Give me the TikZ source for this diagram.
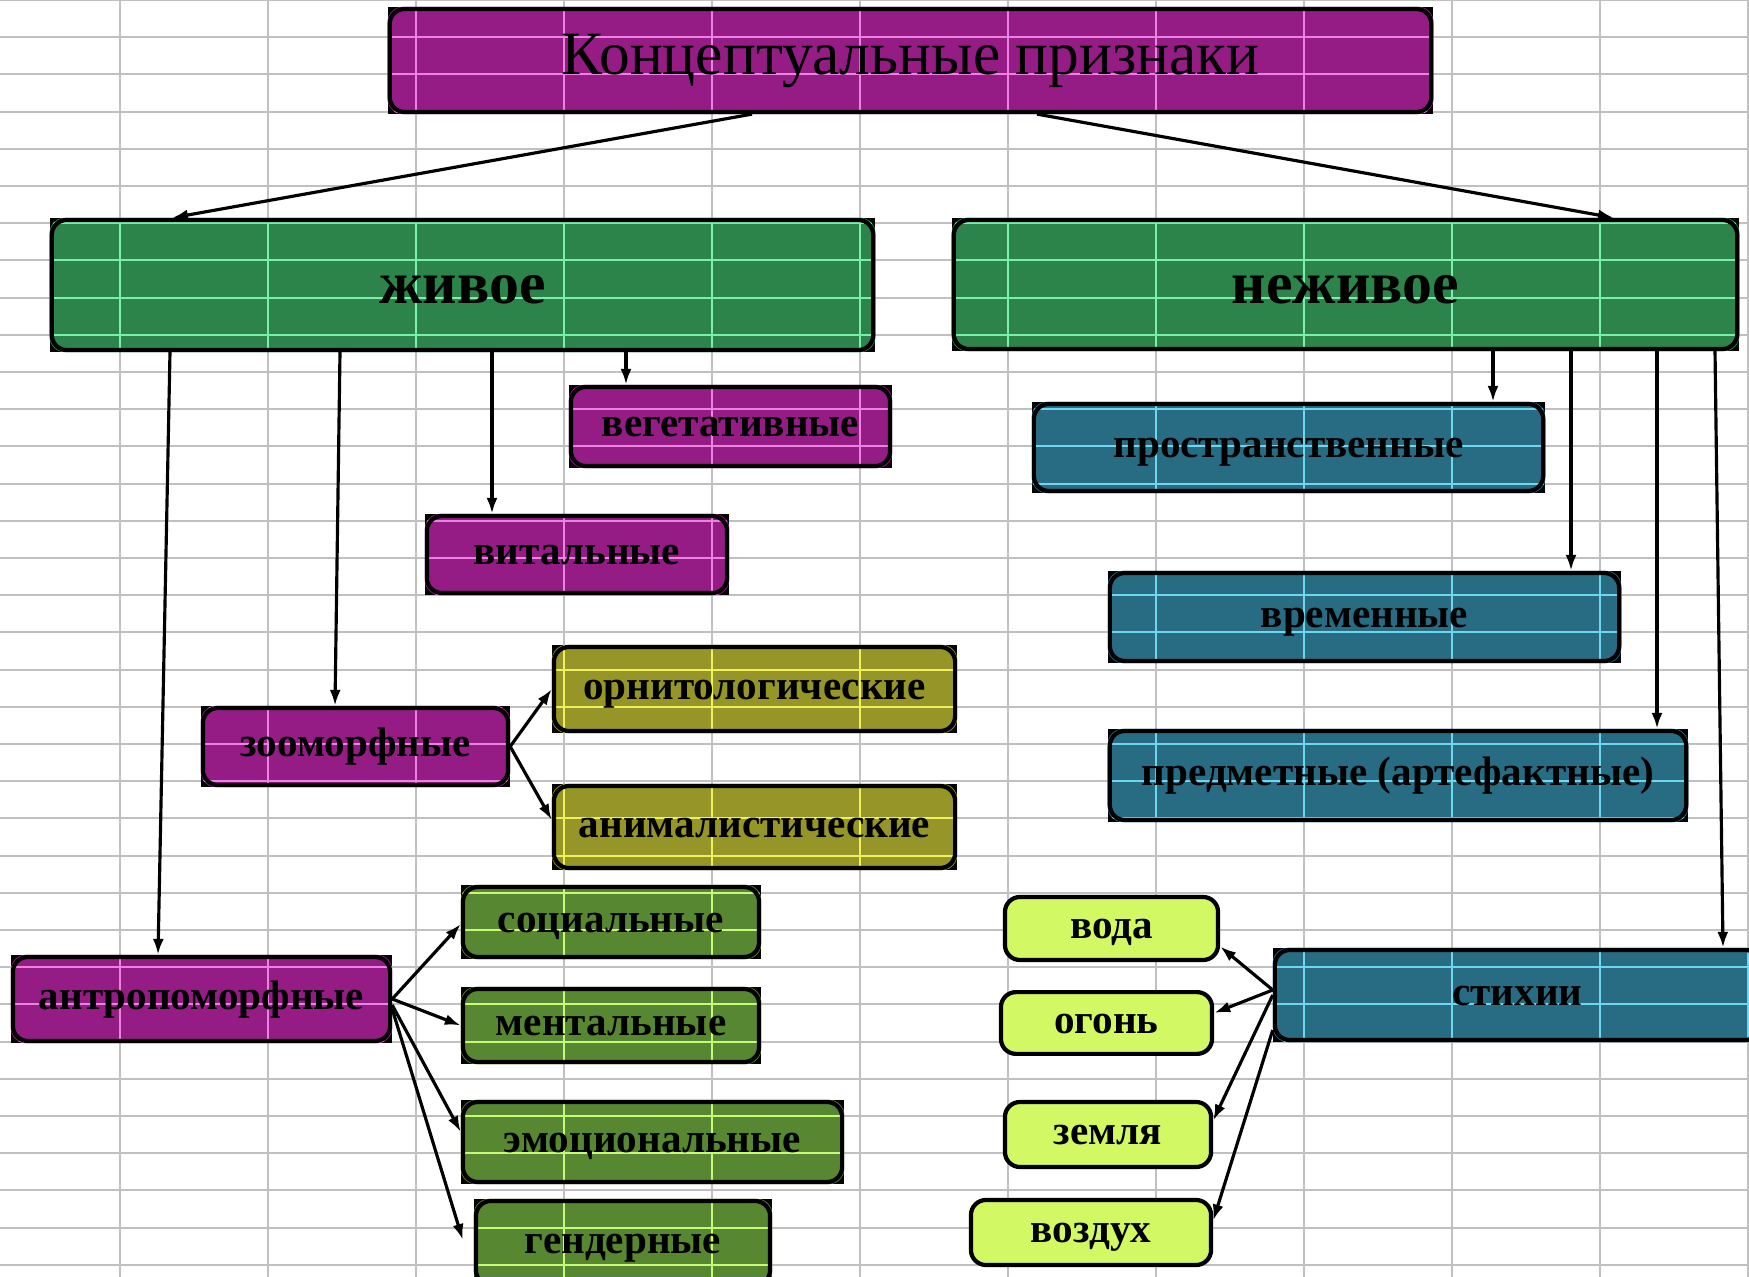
\documentclass[tikz,border=0pt]{standalone}
\usepackage{fontspec}
\setmainfont{Liberation Serif}
\usetikzlibrary{arrows.meta,calc,backgrounds}
\definecolor{plum}{RGB}{148,28,132}
\definecolor{plumline}{RGB}{235,130,225}
\definecolor{leaf}{RGB}{45,132,75}
\definecolor{leafline}{RGB}{120,240,170}
\definecolor{moss}{RGB}{88,135,50}
\definecolor{mossline}{RGB}{200,250,120}
\definecolor{olivebox}{RGB}{150,150,40}
\definecolor{oliveline}{RGB}{240,240,90}
\definecolor{sea}{RGB}{40,108,132}
\definecolor{sealine}{RGB}{110,215,240}
\definecolor{limebox}{RGB}{210,248,100}
\definecolor{cellline}{RGB}{192,192,192}
% the sheet grid
\newcommand\cellgrid[1]{%
  \foreach \gx in {120,268,...,1748} \draw[#1, line width=0.6pt] (\gx,0) -- (\gx,1277);
  \foreach \gy in {0,...,34} \draw[#1, line width=0.6pt] (0,\gy*37.2) -- (1749,\gy*37.2);}
\begin{document}
\begin{tikzpicture}[x=0.01cm, y=-0.01cm,
    box/.style={draw, line width=1.2pt, rounded corners=0.15cm, text height=8.4pt, text depth=2.5pt,
      font=\bfseries\fontsize{11.7}{14}\selectfont},
    head/.style={box, text height=13.6pt, text depth=3pt, font=\bfseries\fontsize{17}{20}\selectfont},
    arr/.style={-{Latex[length=0.16cm,width=0.11cm]}, line width=0.9pt}]
  \useasboundingbox (0,0) rectangle (1749,1277);

  \node[head, minimum width=10.41cm, minimum height=1.03cm, text height=12pt, text depth=4pt, font=\fontsize{17.5}{20}\selectfont] (title) at (910.5,60.5) {Концептуальные признаки};
  \node[head, minimum width=8.21cm, minimum height=1.3cm] (live) at (462.5,285) {живое};
  \node[head, minimum width=7.83cm, minimum height=1.29cm] (nonlive) at (1345.5,284.5) {неживое};

  % живое
  \node[box, minimum width=3.19cm, minimum height=0.79cm] (veget) at (730.5,426.5) {вегетативные};
  \node[box, minimum width=3cm, minimum height=0.77cm] (vital) at (577,554.5) {витальные};
  \node[box, minimum width=3.05cm, minimum height=0.77cm] (zoo) at (355.5,746.5) {зооморфные};
  \node[box, minimum width=4.01cm, minimum height=0.84cm] (ornit) at (754.5,689) {орнитологические};
  \node[box, minimum width=4.01cm, minimum height=0.82cm] (animal) at (754.5,827) {анималистические};
  \node[box, minimum width=3.77cm, minimum height=0.84cm] (anthro) at (201.5,999) {антропоморфные};
  \node[box, minimum width=2.96cm, minimum height=0.7cm] (social) at (611,922) {социальные};
  \node[box, minimum width=2.96cm, minimum height=0.73cm] (mental) at (611,1025.5) {ментальные};
  \node[box, minimum width=3.79cm, minimum height=0.8cm] (emot) at (652.5,1142) {эмоциональные};
  \node[box, minimum width=2.94cm, minimum height=0.84cm] (gender) at (623,1243) {гендерные};

  % неживое
  \node[box, minimum width=5.09cm, minimum height=0.87cm] (space) at (1288.5,447.5) {пространственные};
  \node[box, minimum width=5.09cm, minimum height=0.88cm] (time) at (1364.5,617) {временные};
  \node[box, minimum width=5.76cm, minimum height=0.89cm] (thing) at (1398,775.5) {предметные (артефактные)};
  \node[box, minimum width=4.85cm, minimum height=0.9cm] (elem) at (1517.5,995) {стихии};
  \node[box, fill=limebox, minimum width=2.13cm, minimum height=0.63cm] (water) at (1111.5,928.5) {вода};
  \node[box, fill=limebox, minimum width=2.11cm, minimum height=0.6cm] (fire) at (1106.5,1023) {огонь};
  \node[box, fill=limebox, minimum width=2.06cm, minimum height=0.65cm] (earth) at (1108,1134.5) {земля};
  \node[box, fill=limebox, minimum width=2.4cm, minimum height=0.65cm] (air) at (1091,1232.5) {воздух};

  \draw[arr] ($(title.south)+(-158.5,0)$) -- ($(live.north)+(-290.5,0)$);
  \draw[arr] ($(title.south)+(126.5,0)$) -- ($(nonlive.north)+(268.5,0)$);

  \draw[arr] ($(live.south)+(-292.5,0)$) -- ($(anthro.north)+(-43.5,0)$);
  \draw[arr] ($(live.south)+(-122.5,0)$) -- ($(zoo.north)+(-20.5,0)$);
  \draw[arr] ($(live.south)+(29.5,0)$) -- ($(vital.north)+(-85,0)$);
  \draw[arr] ($(live.south)+(163.5,0)$) -- ($(veget.north)+(-104.5,0)$);
  \draw[arr] (zoo.east) -- (ornit.west);
  \draw[arr] (zoo.east) -- ($(animal.west)+(0,-7)$);
  \draw[arr] (anthro.east) -- ($(social.west)+(0,2)$);
  \draw[arr] (anthro.east) -- (mental.west);
  \draw[arr] ($(anthro.east)+(0,6)$) -- ($(emot.west)+(0,-10)$);
  \draw[arr] ($(anthro.east)+(0,10)$) -- ($(gender.west)+(-11,-3)$);

  \draw[arr] ($(nonlive.south)+(147.5,0)$) -- ($(space.north)+(204.5,0)$);
  \draw[arr] ($(nonlive.south)+(225.5,0)$) -- ($(time.north)+(206.5,0)$);
  \draw[arr] ($(nonlive.south)+(311.5,0)$) -- ($(thing.north)+(259,0)$);
  \draw[arr] ($(nonlive.south)+(369.5,0)$) -- ($(elem.north)+(205.5,0)$);
  \draw[arr] ($(elem.west)+(0,-5)$) -- ($(water.east)+(0,18)$);
  \draw[arr] ($(elem.west)+(0,-5)$) -- ($(fire.east)+(0,-10)$);
  \draw[arr] (elem.west) -- ($(earth.east)+(0,-14)$);
  \draw[arr] ($(elem.west)+(0,35)$) -- ($(air.east)+(0,-12)$);

  % fills under the boxes, with the sheet showing through
  \begin{scope}[on background layer]
    \fill[white] (0,0) rectangle (1749,1277);
    \cellgrid{cellline}
    \foreach \n/\c/\l in {title/plum/plumline, live/leaf/leafline, nonlive/leaf/leafline,
        veget/plum/plumline, vital/plum/plumline, zoo/plum/plumline, anthro/plum/plumline,
        ornit/olivebox/oliveline, animal/olivebox/oliveline,
        social/moss/mossline, mental/moss/mossline, emot/moss/mossline, gender/moss/mossline,
        space/sea/sealine, time/sea/sealine, thing/sea/sealine, elem/sea/sealine} {
      \fill (\n.north west) rectangle (\n.south east);
      \fill[\c, rounded corners=0.15cm] (\n.north west) rectangle (\n.south east);
      \begin{scope}
        \clip[rounded corners=0.15cm] (\n.north west) rectangle (\n.south east);
        \cellgrid{\l}
      \end{scope}
    }
  \end{scope}
\end{tikzpicture}
\end{document}
